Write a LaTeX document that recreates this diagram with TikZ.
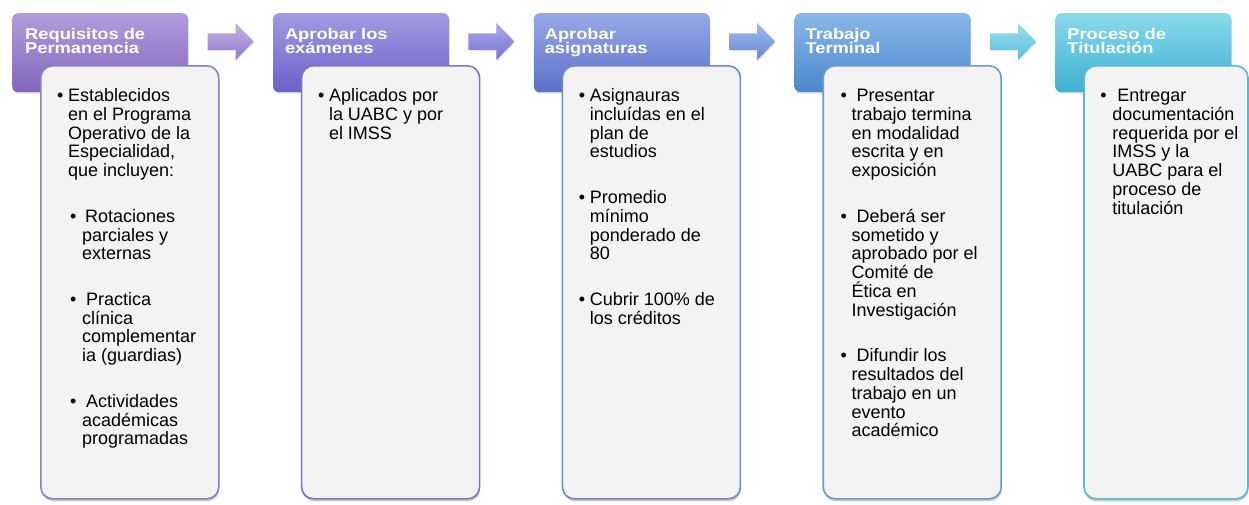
\documentclass[tikz,border=0pt]{standalone}
\usepackage{fontspec}
\setmainfont{Liberation Sans}
\usepackage{graphicx}
\usetikzlibrary{shadows,calc}

\definecolor{hA1}{HTML}{B29CDC}\definecolor{hA2}{HTML}{8366BD}
\definecolor{hB1}{HTML}{A29AE3}\definecolor{hB2}{HTML}{6C60C6}
\definecolor{hC1}{HTML}{97A8E7}\definecolor{hC2}{HTML}{5C70C9}
\definecolor{hD1}{HTML}{8AB8E9}\definecolor{hD2}{HTML}{4A87CD}
\definecolor{hE1}{HTML}{8AD9EB}\definecolor{hE2}{HTML}{3DB1D1}
\definecolor{aA1}{HTML}{C4B2E8}\definecolor{aA2}{HTML}{9278C9}
\definecolor{aB1}{HTML}{ABA8EB}\definecolor{aB2}{HTML}{7672D3}
\definecolor{aC1}{HTML}{A0BBEC}\definecolor{aC2}{HTML}{6788D6}
\definecolor{aD1}{HTML}{9DDDEE}\definecolor{aD2}{HTML}{55BFDC}
\definecolor{bA}{HTML}{8A80BE}\definecolor{bB}{HTML}{7C76C8}
\definecolor{bC}{HTML}{7189CC}\definecolor{bD}{HTML}{6A9DCE}
\definecolor{bE}{HTML}{58B7D2}
\definecolor{bodyfill}{HTML}{F3F3F3}

\newcommand{\stack}[2]{\vtop{\baselineskip=#1\lineskiplimit=-\maxdimen\lineskip=0pt\halign{##\hfil\cr#2\crcr}}}
\newcommand{\hstack}[1]{\scalebox{1.18}[1]{\stack{14pt}{#1}}}
\newcommand{\bstack}[2]{\makebox[#1][l]{\textbullet}\stack{18.8pt}{#2}}

\tikzset{
  hdr/.style={rounded corners=6pt, minimum width=176pt, minimum height=79pt, anchor=north west, inner sep=0pt,
    drop shadow={shadow xshift=0.5pt, shadow yshift=-1.5pt, opacity=0.25, fill=black!50}},
  bodybox/.style={rounded corners=12pt, fill=bodyfill, line width=1.6pt, minimum width=178pt, minimum height=433pt,
    anchor=north west, inner sep=0pt,
    drop shadow={shadow xshift=0.5pt, shadow yshift=-2.5pt, opacity=0.35, fill=black!60}},
  htext/.style={anchor=base west, inner sep=0pt, text=white, font=\fontsize{15.5}{14}\selectfont\bfseries},
  btext/.style={anchor=base west, inner sep=0pt, text=black, font=\fontsize{18}{18.8}\selectfont},
  blockarrow/.style={drop shadow={shadow xshift=0.5pt, shadow yshift=-1.5pt, opacity=0.2, fill=black!50}}
}

\begin{document}
\begin{tikzpicture}[x=1pt,y=1pt]
\useasboundingbox (0,0) rectangle (1249,-504);

% headers
\node[hdr, top color=hA1, bottom color=hA2] (h1) at (12,-13) {};
\node[hdr, top color=hB1, bottom color=hB2] (h2) at (272.8,-13) {};
\node[hdr, top color=hC1, bottom color=hC2] (h3) at (533.6,-13) {};
\node[hdr, top color=hD1, bottom color=hD2] (h4) at (794.4,-13) {};
\node[hdr, top color=hE1, bottom color=hE2] (h5) at (1055.2,-13) {};

\node[htext] (ht1) at ($(h1.north west)+(13,-26.3)$) {\hstack{Requisitos de\cr Permanencia}};
\node[htext] (ht2) at ($(h2.north west)+(12,-26.3)$) {\hstack{Aprobar los\cr exámenes}};
\node[htext] (ht3) at ($(h3.north west)+(11,-26.3)$) {\hstack{Aprobar\cr asignaturas}};
\node[htext] (ht4) at ($(h4.north west)+(11,-26.3)$) {\hstack{Trabajo\cr Terminal}};
\node[htext] (ht5) at ($(h5.north west)+(12,-26.3)$) {\hstack{Proceso de\cr Titulación}};

% block arrows between headers
\coordinate (m1) at ($($(h1.north east)!0.5!(h2.north west)$)+(0,-28.5)$);
\coordinate (m2) at ($($(h2.north east)!0.5!(h3.north west)$)+(0,-28.5)$);
\coordinate (m3) at ($($(h3.north east)!0.5!(h4.north west)$)+(0,-28.5)$);
\coordinate (m4) at ($($(h4.north east)!0.5!(h5.north west)$)+(0,-28.5)$);
\foreach \m/\ca/\cb in {m1/aA1/aA2, m2/aB1/aB2, m3/aC1/aC2, m4/aD1/aD2}{
  \path[blockarrow, top color=\ca, bottom color=\cb, shift={(\m)}]
    (-23,8.25) -- (5,8.25) -- (5,18.5) -- (23,0) -- (5,-18.5) -- (5,-8.25) -- (-23,-8.25) -- cycle;
}

% bodies
\node[bodybox, draw=bA] (b1) at (40,-65) {};
\node[bodybox, draw=bB] (b2) at (300.8,-65) {};
\node[bodybox, draw=bC] (b3) at (561.6,-65) {};
\node[bodybox, draw=bD] (b4) at (822.4,-65) {};
\node[bodybox, draw=bE, minimum width=164pt] (b5) at (1083.2,-65) {};

% body 1
\node[btext] (t11) at ($(b1.north west)+(17,-36.5)$) {\bstack{11pt}{Establecidos\cr en el Programa\cr Operativo de la\cr Especialidad,\cr que incluyen:}};
\node[btext] (t12) at ($(b1.north west)+(30,-157.2)$) {\bstack{12pt}{\hspace*{3pt}Rotaciones\cr parciales y\cr externas}};
\node[btext] (t13) at ($(b1.north west)+(30,-240.3)$) {\bstack{12pt}{\hspace*{4pt}Practica\cr clínica\cr complementar\cr ia (guardias)}};
\node[btext] (t14) at ($(b1.north west)+(30,-342.2)$) {\bstack{12pt}{\hspace*{4pt}Actividades\cr académicas\cr programadas}};

% body 2
\node[btext] (t21) at ($(b2.north west)+(17,-36.5)$) {\bstack{11pt}{Aplicados por\cr la UABC y por\cr el IMSS}};

% body 3
\node[btext] (t31) at ($(b3.north west)+(17,-36.5)$) {\bstack{11pt}{Asignauras\cr incluídas en el\cr plan de\cr estudios}};
\node[btext] (t32) at ($(b3.north west)+(17,-138.4)$) {\bstack{11pt}{Promedio\cr mínimo\cr ponderado de\cr 80}};
\node[btext] (t33) at ($(b3.north west)+(17,-240.3)$) {\bstack{11pt}{Cubrir 100\% de\cr los créditos}};

% body 4
\node[btext] (t41) at ($(b4.north west)+(18,-36.5)$) {\bstack{11pt}{\hspace*{5pt}Presentar\cr trabajo termina\cr en modalidad\cr escrita y en\cr exposición}};
\node[btext] (t42) at ($(b4.north west)+(18,-157.2)$) {\bstack{11pt}{\hspace*{5pt}Deberá ser\cr sometido y\cr aprobado por el\cr Comité de\cr Ética en\cr Investigación}};
\node[btext] (t43) at ($(b4.north west)+(18,-296.7)$) {\bstack{11pt}{\hspace*{5pt}Difundir los\cr resultados del\cr trabajo en un\cr evento\cr académico}};

% body 5
\node[btext] (t51) at ($(b5.north west)+(17,-36.5)$) {\bstack{12pt}{\hspace*{5pt}Entregar\cr documentación\cr requerida por el\cr IMSS y la\cr UABC para el\cr proceso de\cr titulación}};
\end{tikzpicture}
\end{document}
